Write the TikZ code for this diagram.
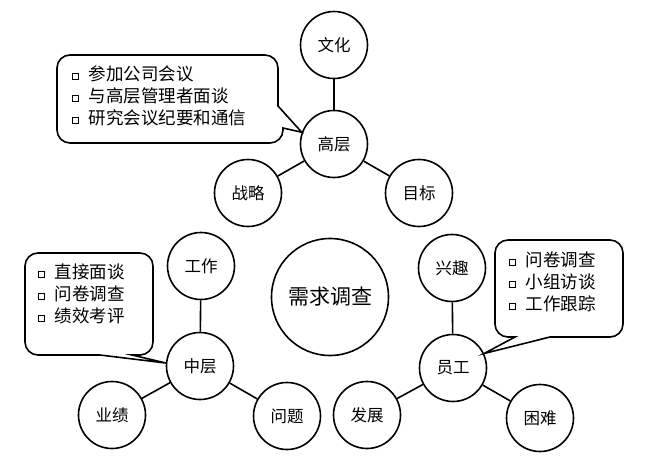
\documentclass[tikz,border=0pt]{standalone}
\usepackage{fontspec}
\setmainfont{Noto Sans CJK SC}
\newcommand\sqbul{{\setlength\fboxsep{0pt}\setlength\fboxrule{1.3pt}\raisebox{2pt}{\fbox{\rule{0pt}{4.5pt}\hspace{4.5pt}}}}\hspace{10pt}}
\begin{document}
\begin{tikzpicture}[x=1pt,y=-1pt,line width=1.6pt,
  bub/.style={draw,circle,minimum size=67pt,inner sep=0pt,font=\fontsize{16.5}{16.5}\selectfont},
  note/.style={rounded corners=13pt},
  notetext/.style={anchor=north west,align=left,inner sep=0pt,font=\fontsize{17.5}{22}\selectfont}]
\useasboundingbox (0,0) rectangle (646,464);
% top group
\node[bub] (wh) at (334,45) {文化};
\node[bub] (gc) at (334,144) {高层};
\node[bub] (zl) at (248,193) {战略};
\node[bub] (mb) at (419,193) {目标};
\draw (gc) -- (wh);
\draw (gc) -- (zl);
\draw (gc) -- (mb);
% centre
\node[draw,circle,minimum size=117pt,inner sep=0pt,font=\fontsize{21}{21}\selectfont] (xq) at (330,297) {需求调查};
% left group
\node[bub] (gz) at (201,266) {工作};
\node[bub] (zc) at (200,366) {中层};
\node[bub] (yj) at (112,415) {业绩};
\node[bub] (wt) at (287,416) {问题};
\draw (zc) -- (gz);
\draw (zc) -- (yj);
\draw (zc) -- (wt);
% right group
\node[bub] (xqu) at (452,268) {兴趣};
\node[bub] (yg) at (453,368) {员工};
\node[bub] (fz) at (367,415) {发展};
\node[bub] (kn) at (540,418) {困难};
\draw (yg) -- (xqu);
\draw (yg) -- (fz);
\draw (yg) -- (kn);
% callouts
\draw[note] (278,106) -- (278,55) -- (57,55) -- (57,143) -- (283,143) [sharp corners] -- (283,128) -- (gc.160) -- cycle;
\node[notetext] (gctext) at (71,65) {\sqbul 参加公司会议\\\sqbul 与高层管理者面谈\\\sqbul 研究会议纪要和通信};
\draw[note] (100,355) -- (25,355) -- (25,253) -- (153,253) -- (153,355) [sharp corners] -- (132,355) -- (zc.175) -- cycle;
\node[notetext] (zctext) at (37,263) {\sqbul 直接面谈\\\sqbul 问卷调查\\\sqbul 绩效考评};
\draw[note] (550,337) -- (623,337) -- (623,240) -- (495,240) -- (495,337) [sharp corners] -- (515,337) -- (yg.25) -- cycle;
\node[notetext] (ygtext) at (508,251) {\sqbul 问卷调查\\\sqbul 小组访谈\\\sqbul 工作跟踪};
\end{tikzpicture}
\end{document}
